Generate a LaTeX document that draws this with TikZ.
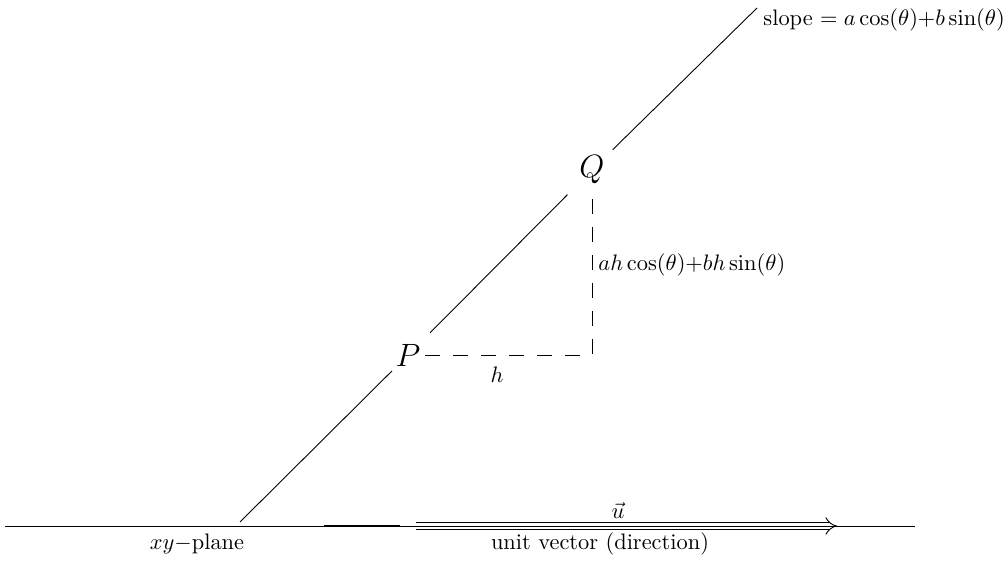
\documentclass[tikz,border=0pt]{standalone}
\usetikzlibrary{arrows.meta}
\begin{document}
\begin{tikzpicture}[x=0.4464pt,y=-0.4464pt,
  pt/.style={font=\Large, inner sep=2pt, fill=white},
  lbl/.style={inner sep=0pt},
  hdash/.style={dash pattern=on 6.7pt off 5.8pt}]
\useasboundingbox (0,0) rectangle (1008,565);
% coordinates
\coordinate (L) at (5,526);
\coordinate (R) at (915,526);
\coordinate (A) at (240,522);
\coordinate (B) at (757,8);
\coordinate (C) at (592,355);
\coordinate (U1) at (416,526);
\coordinate (U2) at (837,526);
\coordinate (T1) at (324,526);
\coordinate (T2) at (400,526);
% points
\node[pt] (P) at (408,355) {$P$};
\node[pt] (Q) at (592,170) {$Q$};
% slanted line
\draw (A) -- (P);
\draw[shorten <=4pt, shorten >=4.5pt] (P) -- (Q);
\draw[shorten <=2pt] (Q) -- (B);
% dashed legs
\draw[hdash] (P.east) -- (C) -- (Q.south);
% arrow and plane
\draw[line width=0.4pt, double=white, double distance=2.4pt, -{Implies}] (U1) -- (U2);
\draw (L) -- (R);
\draw[line width=0.8pt] (T1) -- (T2);
% labels
\node[lbl] (h) at (497,375) {$h$};
\node[lbl, anchor=west] (v) at (598,265) {$ah\cos(\theta)$+$bh\sin(\theta)$};
\node[lbl, anchor=west] (s) at (763,20) {slope $=a\cos(\theta)$+$b\sin(\theta)$};
\node[lbl] (u) at (618,510) {$\vec{u}$};
\node[lbl] (xy) at (197,544) {$xy-$plane};
\node[lbl] (uv) at (600,544) {unit vector (direction)};
\end{tikzpicture}
\end{document}
